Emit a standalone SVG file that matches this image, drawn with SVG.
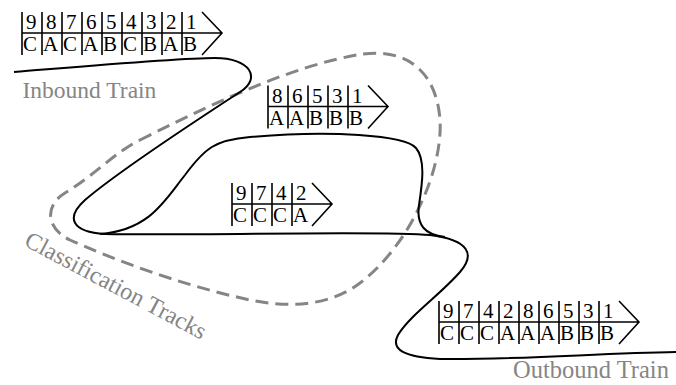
<svg xmlns="http://www.w3.org/2000/svg" width="676" height="385" viewBox="0 0 676 385">
<style>
.tbl{fill:none;stroke:#000;stroke-width:1.6}
.num{font-family:"Liberation Serif","Times New Roman",serif;font-size:21px;fill:#000}
.lbl{font-family:"Liberation Serif","Times New Roman",serif;fill:#858585}
.track{fill:none;stroke:#000;stroke-width:2}
.dash{fill:none;stroke:#858585;stroke-width:3;stroke-dasharray:13 7}
</style>
<rect width="676" height="385" fill="#fff"/>
<g id="connectors">
<path id="classification-boundary" class="dash" d="M140,140 C200,110 290,65 363,54 C410,48 437,75 440,120 C443,170 410,245 360,283 C330,306 290,308 250,300 C180,285 110,258 70,240 C45,228 45,205 65,193 C95,175 115,152 140,140 Z"/>
<path id="main-track" class="track" d="M14,72 C100,65 180,58 215,58 C250,58 262,78 240,92 C220,105 120,170 85,200 C65,218 72,232 105,234 C200,236 380,230 430,235 C470,240 475,255 460,272 C440,295 410,315 398,335 C390,350 405,357 440,359 C520,360 600,353 676,352"/>
<path id="upper-track" class="track" d="M100,234 C150,230 165,200 185,175 C205,148 215,140 250,137 C330,130 405,135 416,148 C426,160 422,185 419,205 C416,225 425,235 445,237"/>
</g>
<g id="inbound-train" transform="translate(22,33)">
<path class="tbl" d="M0,0 H200 M180,-21 L200,0 L180,22 M0,-21 V22 M20,-21 V22 M40,-21 V22 M60,-21 V22 M80,-21 V22 M100,-21 V22 M120,-21 V22 M140,-21 V22 M160,-21 V22"/>
<text class="num" y="-4"><tspan x="4">9</tspan><tspan x="24">8</tspan><tspan x="44">7</tspan><tspan x="64">6</tspan><tspan x="84">5</tspan><tspan x="104">4</tspan><tspan x="124">3</tspan><tspan x="144">2</tspan><tspan x="164">1</tspan></text>
<text class="num" y="18"><tspan x="1">C</tspan><tspan x="21">A</tspan><tspan x="41">C</tspan><tspan x="61">A</tspan><tspan x="81">B</tspan><tspan x="101">C</tspan><tspan x="121">B</tspan><tspan x="141">A</tspan><tspan x="161">B</tspan></text>
</g>
<g id="track-ab" transform="translate(268,106.5)">
<path class="tbl" d="M0,0 H120 M100,-21 L120,0 L100,22 M0,-21 V22 M20,-21 V22 M40,-21 V22 M60,-21 V22 M80,-21 V22"/>
<text class="num" y="-4"><tspan x="4">8</tspan><tspan x="24">6</tspan><tspan x="44">5</tspan><tspan x="64">3</tspan><tspan x="84">1</tspan></text>
<text class="num" y="18"><tspan x="1">A</tspan><tspan x="21">A</tspan><tspan x="41">B</tspan><tspan x="61">B</tspan><tspan x="81">B</tspan></text>
</g>
<g id="track-ca" transform="translate(232,204)">
<path class="tbl" d="M0,0 H100 M80,-21 L100,0 L80,22 M0,-21 V22 M20,-21 V22 M40,-21 V22 M60,-21 V22"/>
<text class="num" y="-4"><tspan x="4">9</tspan><tspan x="24">7</tspan><tspan x="44">4</tspan><tspan x="64">2</tspan></text>
<text class="num" y="18"><tspan x="1">C</tspan><tspan x="21">C</tspan><tspan x="41">C</tspan><tspan x="61">A</tspan></text>
</g>
<g id="outbound-train" transform="translate(439,322)">
<path class="tbl" d="M0,0 H200 M180,-21 L200,0 L180,22 M0,-21 V22 M20,-21 V22 M40,-21 V22 M60,-21 V22 M80,-21 V22 M100,-21 V22 M120,-21 V22 M140,-21 V22 M160,-21 V22"/>
<text class="num" y="-4"><tspan x="4">9</tspan><tspan x="24">7</tspan><tspan x="44">4</tspan><tspan x="64">2</tspan><tspan x="84">8</tspan><tspan x="104">6</tspan><tspan x="124">5</tspan><tspan x="144">3</tspan><tspan x="164">1</tspan></text>
<text class="num" y="18"><tspan x="1">C</tspan><tspan x="21">C</tspan><tspan x="41">C</tspan><tspan x="61">A</tspan><tspan x="81">A</tspan><tspan x="101">A</tspan><tspan x="121">B</tspan><tspan x="141">B</tspan><tspan x="161">B</tspan></text>
</g>
<g id="labels">
<text class="lbl" x="22.5" y="97.5" font-size="23.5">Inbound Train</text>
<text class="lbl" x="513" y="377.5" font-size="24.5">Outbound Train</text>
<text class="lbl" font-size="24" transform="translate(23,245) rotate(28)">Classification Tracks</text>
</g>
</svg>
